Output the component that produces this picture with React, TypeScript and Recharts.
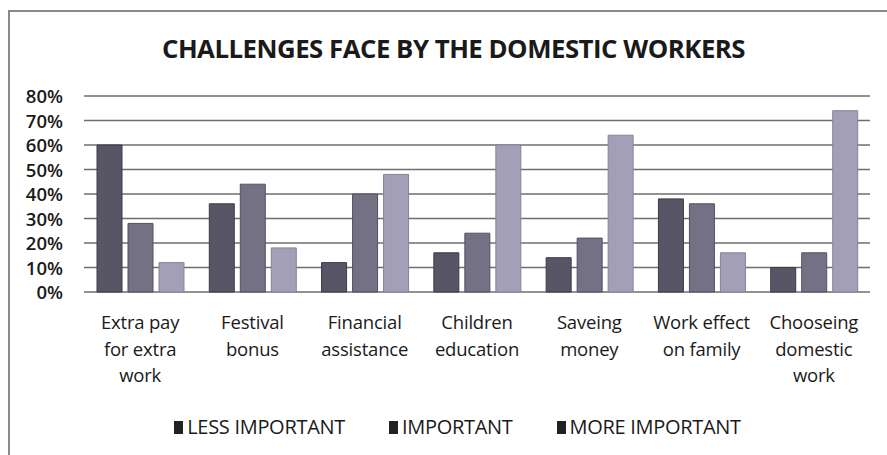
import React from "react";
import { BarChart, Bar, XAxis, YAxis, CartesianGrid } from "recharts";

const categories = [
  "Extra pay for extra work",
  "Festival bonus",
  "Financial assistance",
  "Children education",
  "Saveing money",
  "Work effect on family",
  "Chooseing domestic work",
];
const categoryLines: string[][] = [
  ["Extra pay", "for extra", "work"],
  ["Festival", "bonus"],
  ["Financial", "assistance"],
  ["Children", "education"],
  ["Saveing", "money"],
  ["Work effect", "on family"],
  ["Chooseing", "domestic", "work"],
];
const lessImportant = [60, 36, 12, 16, 14, 38, 10];
const important = [28, 44, 40, 24, 22, 36, 16];
const moreImportant = [12, 18, 48, 60, 64, 16, 74];
const seriesNames = ["LESS IMPORTANT", "IMPORTANT", "MORE IMPORTANT"];
const yTicks = [0, 10, 20, 30, 40, 50, 60, 70, 80];
const title = "CHALLENGES FACE BY THE DOMESTIC WORKERS";

const data = categories.map((c, i) => ({
  name: c,
  idx: i,
  less: lessImportant[i],
  imp: important[i],
  more: moreImportant[i],
}));

const FONT = "'Open Sans', 'DejaVu Sans', sans-serif";

const XTick = (props: any) => {
  const { x, y, payload } = props;
  const lines = categoryLines[payload.index] || [String(payload.value)];
  return (
    <g>
      {lines.map((l, k) => (
        <text
          key={k}
          x={x}
          y={y + 37 + k * 26.5}
          textAnchor="middle"
          fontFamily={FONT}
          fontSize={18.5}
          letterSpacing={-0.2}
          fill="#1a1a1a"
        >
          {l}
        </text>
      ))}
    </g>
  );
};

const YTick = (props: any) => {
  const { x, y, payload } = props;
  return (
    <text
      x={x - 21}
      y={y + 7}
      textAnchor="end"
      fontFamily={FONT}
      fontSize={18.5}
      fontWeight={600}
      fill="#1a1a1a"
    >
      {payload.value}%
    </text>
  );
};

export default function App() {
  return (
    <div
      style={{
        position: "absolute",
        left: 0,
        top: 0,
        width: 887,
        height: 455,
        background: "#fff",
        overflow: "hidden",
      }}
    >
      <div
        style={{
          position: "absolute",
          left: 8,
          top: 10,
          width: 900,
          height: 460,
          borderLeft: "2px solid #8a8a8a",
          borderTop: "2px solid #8a8a8a",
        }}
      />
      <div
        style={{
          position: "absolute",
          left: 0,
          top: 33,
          width: 907,
          textAlign: "center",
          fontFamily: FONT,
          fontWeight: 700,
          fontSize: 25.8,
          letterSpacing: -0.5,
          color: "#1a1a1a",
          lineHeight: "30px",
        }}
      >
        {title}
      </div>
      <div style={{ position: "absolute", left: 0, top: 0 }}>
        <BarChart
          width={887}
          height={455}
          data={data}
          margin={{ top: 96, right: 17, left: 24, bottom: 63 }}
          barSize={25}
          barGap={6}
        >
          <CartesianGrid
            vertical={false}
            stroke="#6e6e6e"
            strokeWidth={1.3}
          />
          <XAxis
            dataKey="name"
            height={100}
            axisLine={false}
            tickLine={false}
            tickSize={0}
            tickMargin={0}
            interval={0}
            tick={<XTick />}
          />
          <YAxis
            width={60}
            domain={[0, 80]}
            ticks={yTicks}
            axisLine={false}
            tickLine={false}
            tickSize={0}
            tickMargin={0}
            tick={<YTick />}
          />
          <Bar
            dataKey="less"
            name={seriesNames[0]}
            fill="#585666"
            stroke="#3c3a48"
            strokeWidth={1}
            isAnimationActive={false}
          />
          <Bar
            dataKey="imp"
            name={seriesNames[1]}
            fill="#747185"
            stroke="#535062"
            strokeWidth={1}
            isAnimationActive={false}
          />
          <Bar
            dataKey="more"
            name={seriesNames[2]}
            fill="#a29fb7"
            stroke="#86839a"
            strokeWidth={1}
            isAnimationActive={false}
          />
        </BarChart>
      </div>
      <div
        style={{
          position: "absolute",
          left: 0,
          top: 414,
          width: 915,
          display: "flex",
          justifyContent: "center",
          fontFamily: FONT,
          fontSize: 20,
          letterSpacing: -0.3,
          color: "#1a1a1a",
          lineHeight: "26px",
        }}
      >
        {seriesNames.map((n, i) => (
          <div
            key={n}
            style={{
              display: "flex",
              alignItems: "center",
              marginRight: i < seriesNames.length - 1 ? 44 : 0,
            }}
          >
            <span
              style={{
                display: "inline-block",
                width: 9,
                height: 13,
                background: "#222",
                marginRight: 4,
              }}
            />
            <span>{n}</span>
          </div>
        ))}
      </div>
    </div>
  );
}
